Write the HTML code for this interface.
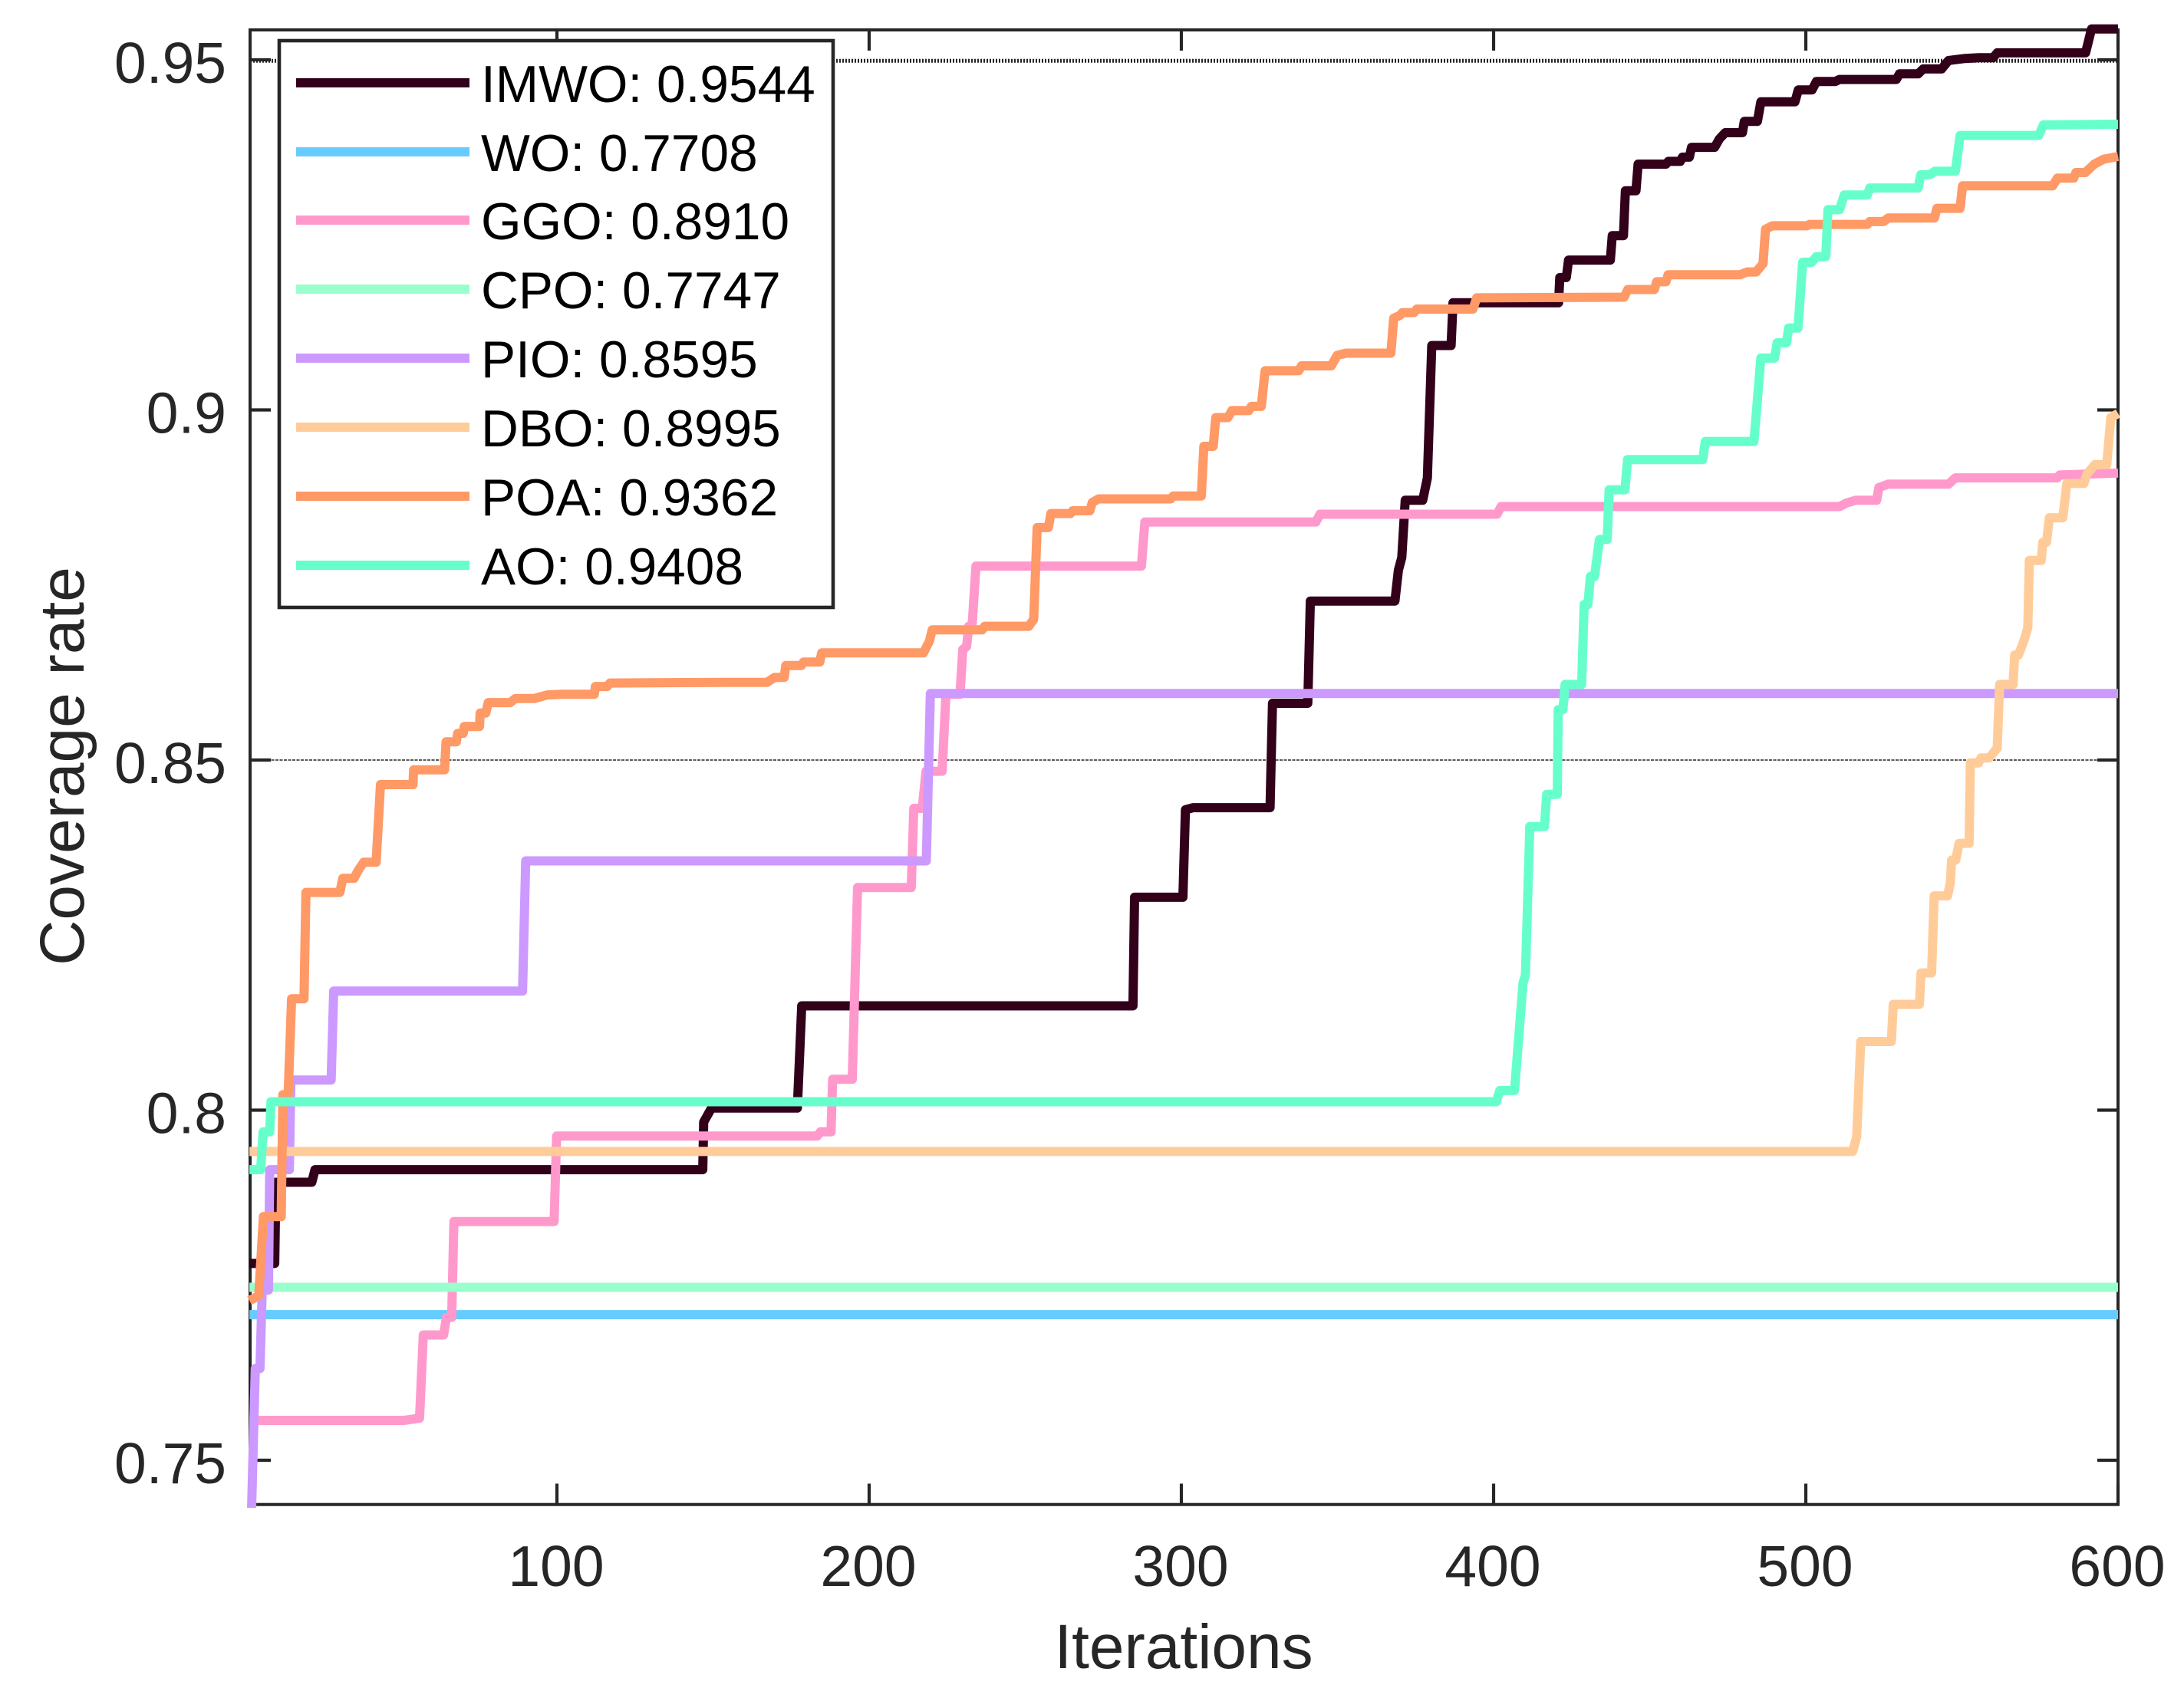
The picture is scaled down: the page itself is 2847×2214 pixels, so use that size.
<!DOCTYPE html>
<html lang="en">
<head>
<meta charset="utf-8">
<title>Coverage rate vs iterations</title>
<style>
html,body{margin:0;padding:0;background:#fff;}
svg{display:block;font-family:"Liberation Sans",Arial,sans-serif;}
</style>
</head>
<body>
<svg id="chart" xmlns="http://www.w3.org/2000/svg" width="2847" height="2214" viewBox="0 0 2847 2214">
  <rect x="0" y="0" width="2847" height="2214" fill="#fff"/>
  <g id="grid-layer"></g>
  <rect x="326" y="39" width="2435" height="1922.7" fill="none" stroke="#262626" stroke-width="4"/>
  <g id="tick-layer"></g>
  <g id="series-layer"></g>
  <text x="1543" y="2175" font-size="82" fill="#262626" text-anchor="middle">Iterations</text>
  <text transform="translate(109,999) rotate(-90)" font-size="82" fill="#262626" text-anchor="middle">Coverage rate</text>
  <g>
    <rect x="364" y="53" width="722" height="739" fill="#fff" stroke="#262626" stroke-width="4.6"/>
    <g>
      <line x1="386" x2="612" y1="108" y2="108" stroke="#33001a" stroke-width="12"/>
      <text x="627" y="133" font-size="67.6" fill="#000">IMWO: 0.9544</text>
    </g>
    <g>
      <line x1="386" x2="612" y1="198" y2="198" stroke="#66ccff" stroke-width="12"/>
      <text x="627" y="223" font-size="67.6" fill="#000">WO: 0.7708</text>
    </g>
    <g>
      <line x1="386" x2="612" y1="287" y2="287" stroke="#ff99cc" stroke-width="12"/>
      <text x="627" y="312" font-size="67.6" fill="#000">GGO: 0.8910</text>
    </g>
    <g>
      <line x1="386" x2="612" y1="377" y2="377" stroke="#99ffcc" stroke-width="12"/>
      <text x="627" y="402" font-size="67.6" fill="#000">CPO: 0.7747</text>
    </g>
    <g>
      <line x1="386" x2="612" y1="467" y2="467" stroke="#cc99ff" stroke-width="12"/>
      <text x="627" y="492" font-size="67.6" fill="#000">PIO: 0.8595</text>
    </g>
    <g>
      <line x1="386" x2="612" y1="557" y2="557" stroke="#ffcc99" stroke-width="12"/>
      <text x="627" y="582" font-size="67.6" fill="#000">DBO: 0.8995</text>
    </g>
    <g>
      <line x1="386" x2="612" y1="647" y2="647" stroke="#ff9966" stroke-width="12"/>
      <text x="627" y="672" font-size="67.6" fill="#000">POA: 0.9362</text>
    </g>
    <g>
      <line x1="386" x2="612" y1="737" y2="737" stroke="#66ffcc" stroke-width="12"/>
      <text x="627" y="762" font-size="67.6" fill="#000">AO: 0.9408</text>
    </g>
  </g>
</svg>
<script>
var xTicks = [100, 200, 300, 400, 500, 600];
var yTicks = [0.75, 0.8, 0.85, 0.9, 0.95];
var yTickLabels = ['0.75', '0.8', '0.85', '0.9', '0.95'];
var gridValues = [0.85, 0.95];

var imwoIter = [1.5,9.6,10,21.5,22.5,146.7,147,149.5,177,178.4,284.5,285,300.5,301.3,303.8,328.4,329.2,340.5,341.3,368.4,369.5,370.6,371.7,377.3,378.8,380.2,386.4,387,420.8,421.2,423.3,424,437.4,438,441.6,442.2,445.6,446.3,455.2,456,459.8,460.5,462.7,463.4,470.8,472.3,474.2,479.7,480.3,484.5,485.6,496.5,497.6,502,503.4,509.4,510.8,529,530,536,537.6,543.5,545.7,551,555.4,560,561.3,589.6,591.5,600];
var imwoValue = [0.7781,0.7781,0.7897,0.7897,0.7915,0.7915,0.7983,0.8003,0.8003,0.8149,0.8149,0.8304,0.8304,0.8429,0.8432,0.8432,0.8581,0.8581,0.8727,0.8727,0.8771,0.8789,0.8871,0.8871,0.8903,0.9092,0.9092,0.9153,0.9153,0.9189,0.9189,0.9214,0.9214,0.9249,0.9249,0.9313,0.9313,0.9351,0.9351,0.9355,0.9355,0.9361,0.9361,0.9375,0.9375,0.9387,0.9396,0.9396,0.9412,0.9412,0.9440,0.9440,0.9457,0.9457,0.9469,0.9469,0.9472,0.9472,0.9480,0.9480,0.9487,0.9487,0.9499,0.9502,0.9503,0.9503,0.9510,0.9510,0.9544,0.9544];

var woIter = [1.5, 600];
var woValue = [0.7708, 0.7708];

var ggoIter = [1.5,51,56,57.2,63.7,64.6,66.3,67,99.1,99.9,183.4,184.4,187.8,188.3,194.6,196.3,213.5,214.3,217,218.2,223.4,224.6,229.1,230,231.2,231.9,233,234.2,287.2,288.3,343.1,344.4,401.1,402.4,510.8,513,516,522.7,523.4,526.4,545.7,547.9,580.6,581.3,600];
var ggoValue = [0.7557,0.7557,0.7560,0.7679,0.7679,0.7704,0.7704,0.7841,0.7841,0.7963,0.7963,0.7969,0.7969,0.8044,0.8044,0.8318,0.8318,0.8431,0.8431,0.8484,0.8484,0.8594,0.8594,0.8658,0.8662,0.8691,0.8693,0.8777,0.8777,0.8840,0.8840,0.8851,0.8851,0.8862,0.8862,0.8867,0.8871,0.8871,0.8889,0.8894,0.8894,0.8903,0.8903,0.8907,0.8910];

var cpoIter = [1.5, 600];
var cpoValue = [0.7747, 0.7747];

var pioIter = [2.2,3.4,4.9,5.6,7.6,8,14.3,14.8,27.7,28.5,89,90,218.3,219.6,600];
var pioValue = [0.7432,0.7631,0.7631,0.7743,0.7743,0.7915,0.7915,0.8043,0.8043,0.8170,0.8170,0.8356,0.8356,0.8595,0.8595];

var dboIter = [1.5,515,516.3,517.6,527.4,528,536.4,536.9,540.3,541.1,545.4,546.3,546.7,548,549.1,552.3,552.7,555.3,556.1,558.7,561.3,562.1,566.4,566.9,568.1,569.9,571.1,571.6,575.4,575.9,577.1,578,582.3,583.6,589.1,590,592.6,596.4,597.7,600];
var dboValue = [0.7941,0.7941,0.7962,0.8098,0.8098,0.8151,0.8151,0.8196,0.8196,0.8306,0.8306,0.8325,0.8357,0.8357,0.8381,0.8381,0.8496,0.8496,0.8503,0.8503,0.8517,0.8608,0.8608,0.8650,0.8650,0.8671,0.8689,0.8785,0.8785,0.8811,0.8811,0.8846,0.8846,0.8895,0.8895,0.8908,0.8922,0.8922,0.8989,0.8995];

var poaIter = [1.5,4.5,6,11.7,12.2,13.9,15,19,19.6,30.5,31.4,35,36.3,38.1,42.1,43.5,53.9,54.1,64,64.5,67.8,68.2,70,70.3,75.2,75.4,77.2,78,85,86.7,92.8,96.9,101.7,112,112.3,116.1,117,153.3,167.3,169.7,172.8,173.3,178.3,179,184.2,184.8,217.4,219.3,220.2,236.2,237,251.1,252.7,253.8,257.4,258.2,264.5,265.2,270.7,271.5,273.5,296.6,297.4,306.4,307.2,310.2,311,314.9,316.2,321.6,322.4,325.6,326.8,337.6,338.5,348,349.9,352.8,367.1,368,370,370.8,374.5,375.4,393.4,394.6,441.8,443,451.5,452.2,455.2,455.9,478.9,481.2,484.1,486.3,487.1,489.3,500.4,501.2,519.7,520.5,524.9,526.4,541.2,542,549.4,550.2,579.1,580.6,585.8,586.5,589.5,592.4,595.4,600];
var poaValue = [0.7728,0.7735,0.7848,0.7848,0.8022,0.8022,0.8159,0.8159,0.8311,0.8311,0.8331,0.8331,0.8342,0.8354,0.8354,0.8465,0.8465,0.8486,0.8486,0.8526,0.8526,0.8538,0.8538,0.8548,0.8548,0.8567,0.8567,0.8582,0.8582,0.8588,0.8588,0.8593,0.8594,0.8594,0.8605,0.8605,0.8610,0.8611,0.8611,0.8618,0.8618,0.8635,0.8635,0.8640,0.8640,0.8653,0.8653,0.8670,0.8686,0.8686,0.8691,0.8691,0.8701,0.8832,0.8832,0.8852,0.8852,0.8856,0.8856,0.8868,0.8873,0.8873,0.8877,0.8877,0.8948,0.8948,0.8989,0.8989,0.8999,0.8999,0.9005,0.9005,0.9056,0.9056,0.9063,0.9063,0.9078,0.9081,0.9081,0.9131,0.9135,0.9139,0.9139,0.9144,0.9144,0.9160,0.9161,0.9172,0.9172,0.9183,0.9183,0.9193,0.9193,0.9197,0.9197,0.9209,0.9258,0.9263,0.9263,0.9265,0.9265,0.9269,0.9269,0.9274,0.9274,0.9288,0.9288,0.9320,0.9320,0.9331,0.9331,0.9339,0.9339,0.9351,0.9358,0.9362];

var aoIter = [1.5,5.1,5.9,8,8.4,400.9,402,406.7,409.4,410.2,411.6,416.3,417,420.4,420.7,422.2,422.9,428.2,429,430.2,431,432.3,433.9,436.4,437,442.1,442.9,467,467.8,483.4,485.6,490,490.8,493.8,494.5,497.5,499,501.9,503.4,506.4,507.1,510.8,512.3,519.7,520.5,536,536.8,539.8,541.3,547.9,549.4,574.6,576.1,600];
var aoValue = [0.7915,0.7915,0.7969,0.7969,0.8012,0.8012,0.8028,0.8028,0.8181,0.8193,0.8405,0.8405,0.8451,0.8451,0.8572,0.8572,0.8608,0.8608,0.8722,0.8722,0.8762,0.8762,0.8815,0.8815,0.8886,0.8886,0.8929,0.8929,0.8955,0.8955,0.9074,0.9074,0.9096,0.9096,0.9117,0.9117,0.9211,0.9211,0.9219,0.9219,0.9286,0.9286,0.9307,0.9307,0.9317,0.9317,0.9336,0.9336,0.9341,0.9341,0.9392,0.9392,0.9407,0.9408];

var SVG_NS = 'http://www.w3.org/2000/svg';

function xScale(v) { return 319 + v * 4.07; }
function yScale(v) { return 1904 - (v - 0.75) * 9130; }

function make(tag, parent) {
  var el = document.createElementNS(SVG_NS, tag);
  parent.appendChild(el);
  return el;
}

var gridLayer = document.getElementById('grid-layer');
var tickLayer = document.getElementById('tick-layer');
var seriesLayer = document.getElementById('series-layer');

gridValues.forEach(function (v, i) {
  var g = make('line', gridLayer);
  
  
  g.setAttribute('x1', 326);
  g.setAttribute('x2', xScale(600));
  if (i === 1) {
    g.setAttribute('y1', yScale(v) + 1.3);
    g.setAttribute('y2', yScale(v) + 1.3);
    g.setAttribute('stroke', '#262626');
    g.setAttribute('stroke-width', '5');
    g.setAttribute('stroke-dasharray', '2 2');
  } else {
    g.setAttribute('y1', yScale(v));
    g.setAttribute('y2', yScale(v));
    g.setAttribute('stroke', '#262626');
    g.setAttribute('stroke-width', '1.5');
    g.setAttribute('stroke-dasharray', '4 1.5');
  }
});

xTicks.forEach(function (v) {
  var px = xScale(v);
  var b = make('line', tickLayer);
  
  
  b.setAttribute('x1', px);
  b.setAttribute('x2', px);
  b.setAttribute('y1', 1961.5);
  b.setAttribute('y2', 1934.5);
  b.setAttribute('stroke', '#262626');
  b.setAttribute('stroke-width', '4.2');
  var t = make('line', tickLayer);
  
  
  t.setAttribute('x1', px);
  t.setAttribute('x2', px);
  t.setAttribute('y1', 39);
  t.setAttribute('y2', 66);
  t.setAttribute('stroke', '#262626');
  t.setAttribute('stroke-width', '4.2');
  var label = make('text', tickLayer);
  
  
  label.setAttribute('x', px - 1);
  label.setAttribute('y', 2068);
  label.setAttribute('font-size', '75');
  label.setAttribute('fill', '#262626');
  label.setAttribute('text-anchor', 'middle');
  label.textContent = String(v);
});

yTicks.forEach(function (v, i) {
  var py = yScale(v);
  var l = make('line', tickLayer);
  
  
  l.setAttribute('x1', 326);
  l.setAttribute('x2', 353);
  l.setAttribute('y1', py);
  l.setAttribute('y2', py);
  l.setAttribute('stroke', '#262626');
  l.setAttribute('stroke-width', '4.2');
  var r = make('line', tickLayer);
  
  
  r.setAttribute('x1', 2761);
  r.setAttribute('x2', 2734);
  r.setAttribute('y1', py);
  r.setAttribute('y2', py);
  r.setAttribute('stroke', '#262626');
  r.setAttribute('stroke-width', '4.2');
  var label = make('text', tickLayer);
  
  
  label.setAttribute('x', 295);
  label.setAttribute('y', py + 30);
  label.setAttribute('font-size', '75');
  label.setAttribute('fill', '#262626');
  label.setAttribute('text-anchor', 'end');
  label.textContent = yTickLabels[i];
});

function drawSeries(name, iters, values, color) {
  var pts = iters.map(function (it, i) {
    return xScale(it).toFixed(1) + ',' + yScale(values[i]).toFixed(1);
  }).join(' ');
  var p = make('polyline', seriesLayer);
  
  
  p.setAttribute('points', pts);
  p.setAttribute('fill', 'none');
  p.setAttribute('stroke', color);
  p.setAttribute('stroke-width', '12');
  p.setAttribute('stroke-linejoin', 'round');
  p.setAttribute('stroke-linecap', 'butt');
}

drawSeries('series-imwo', imwoIter, imwoValue, '#33001a');
drawSeries('series-wo', woIter, woValue, '#66ccff');
drawSeries('series-ggo', ggoIter, ggoValue, '#ff99cc');
drawSeries('series-cpo', cpoIter, cpoValue, '#99ffcc');
drawSeries('series-pio', pioIter, pioValue, '#cc99ff');
drawSeries('series-dbo', dboIter, dboValue, '#ffcc99');
drawSeries('series-poa', poaIter, poaValue, '#ff9966');
drawSeries('series-ao', aoIter, aoValue, '#66ffcc');
</script>
</body>
</html>
